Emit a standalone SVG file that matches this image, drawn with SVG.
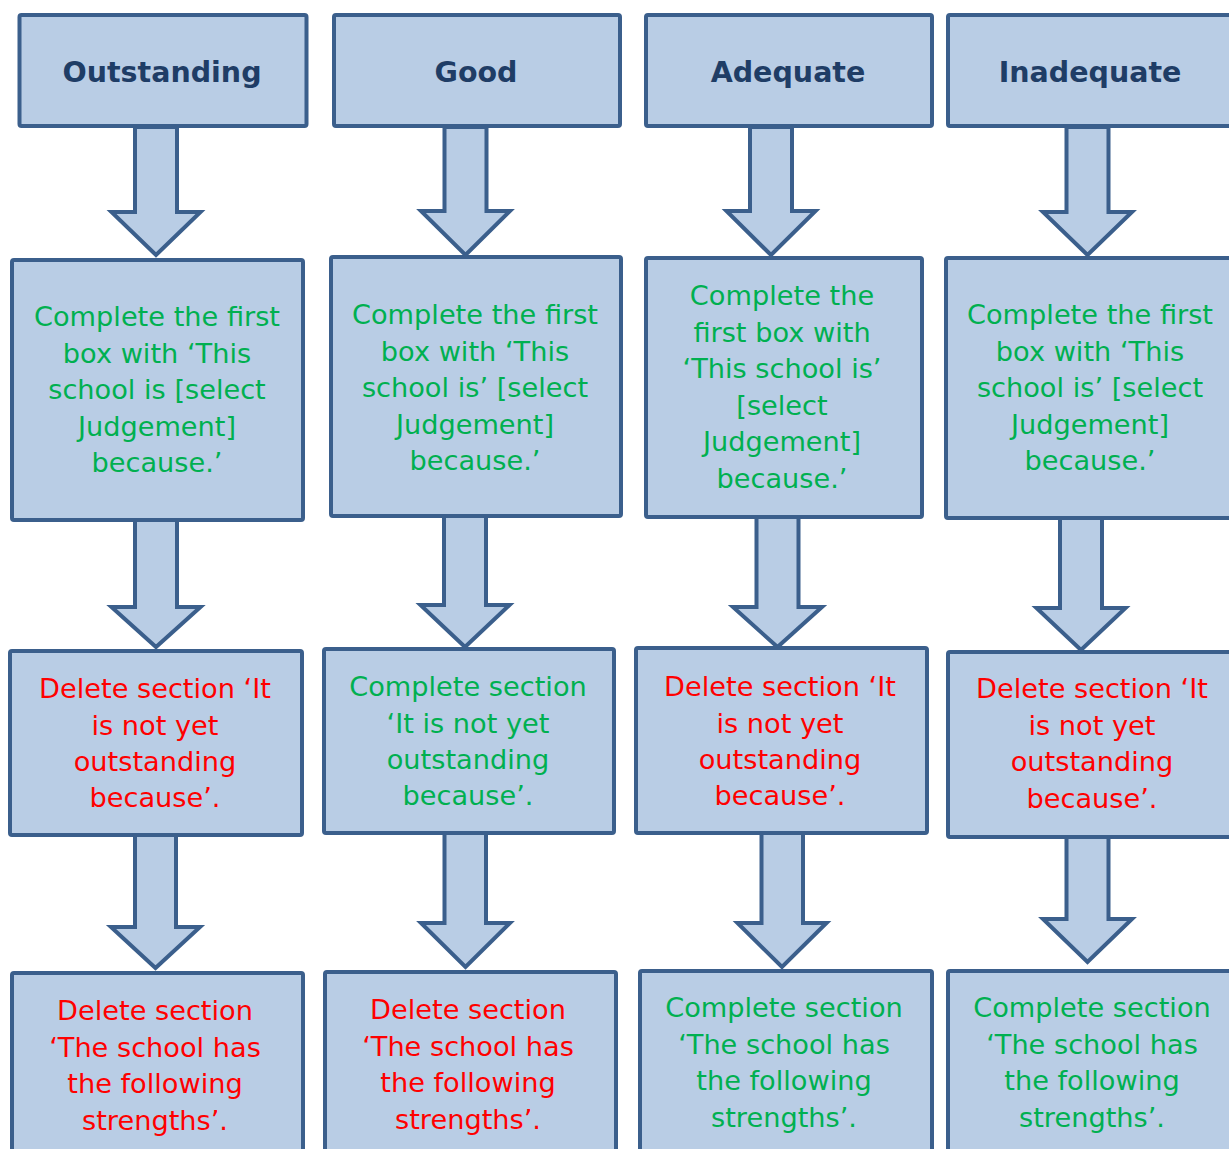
<svg xmlns="http://www.w3.org/2000/svg" width="1229" height="1149" viewBox="0 0 1229 1149">
<style>
.box{fill:#b9cde5;stroke:#3b5f8c;stroke-width:4}
.arr{fill:#b9cde5;stroke:#3b5f8c;stroke-width:4;stroke-linejoin:miter}
.hd{font-family:"DejaVu Sans",Verdana,sans-serif;font-weight:bold;font-size:28.5px;fill:#1f3d66;text-anchor:middle}
.t{font-family:"DejaVu Sans",Verdana,sans-serif;font-size:27.2px;text-anchor:middle}
.g{fill:#00b050}
.r{fill:#ff0000}
</style>
<rect width="1229" height="1149" fill="#ffffff"/>
<g id="connectors">
<polygon class="arr" points="135,127 177,127 177,212 200.5,212 156,255 111.5,212 135,212"/>
<polygon class="arr" points="444.5,127 486.5,127 486.5,211 510,211 465.5,255 421,211 444.5,211"/>
<polygon class="arr" points="750,127 792,127 792,211 815.5,211 771,255 726.5,211 750,211"/>
<polygon class="arr" points="1066.5,127 1108.5,127 1108.5,212 1132,212 1087.5,255 1043,212 1066.5,212"/>
<polygon class="arr" points="135,520 177,520 177,607 200.5,607 156,647 111.5,607 135,607"/>
<polygon class="arr" points="444,516 486,516 486,605 509.5,605 465,647 420.5,605 444,605"/>
<polygon class="arr" points="756.5,517 798.5,517 798.5,607 822,607 777.5,647 733,607 756.5,607"/>
<polygon class="arr" points="1060,518 1102,518 1102,608 1125.5,608 1081,650 1036.5,608 1060,608"/>
<polygon class="arr" points="135,835 176,835 176,927 200,927 155.5,968 111,927 135,927"/>
<polygon class="arr" points="444.5,833 486,833 486,923 510,923 465.5,967 421,923 444.5,923"/>
<polygon class="arr" points="761.5,833 803,833 803,923 826.5,923 782,967 737.5,923 761.5,923"/>
<polygon class="arr" points="1066.5,837 1108.5,837 1108.5,919 1132,919 1087.5,962 1043,919 1066.5,919"/>
</g>
<g id="n-outstanding"><rect class="box" x="19.5" y="15" width="287" height="111" rx="2"/><text class="hd" x="162" y="82">Outstanding</text></g>
<g id="n-good"><rect class="box" x="334" y="15" width="286" height="111" rx="2"/><text class="hd" x="476" y="82">Good</text></g>
<g id="n-adequate"><rect class="box" x="646" y="15" width="286" height="111" rx="2"/><text class="hd" x="788" y="82">Adequate</text></g>
<g id="n-inadequate"><rect class="box" x="948" y="15" width="300" height="111" rx="2"/><text class="hd" x="1090" y="82">Inadequate</text></g>

<g id="n-o2"><rect class="box" x="12" y="260" width="291" height="260" rx="2"/>
<text class="t g" x="157"><tspan x="157" y="326">Complete the first</tspan><tspan x="157" y="362.5">box with ‘This</tspan><tspan x="157" y="399">school is [select</tspan><tspan x="157" y="435.5">Judgement]</tspan><tspan x="157" y="472">because.’</tspan></text></g>
<g id="n-g2"><rect class="box" x="331" y="257" width="290" height="259" rx="2"/>
<text class="t g" x="475"><tspan x="475" y="324">Complete the first</tspan><tspan x="475" y="360.5">box with ‘This</tspan><tspan x="475" y="397">school is’ [select</tspan><tspan x="475" y="433.5">Judgement]</tspan><tspan x="475" y="470">because.’</tspan></text></g>
<g id="n-a2"><rect class="box" x="646" y="258" width="276" height="259" rx="2"/>
<text class="t g" x="782"><tspan x="782" y="305">Complete the</tspan><tspan x="782" y="341.5">first box with</tspan><tspan x="782" y="378">‘This school is’</tspan><tspan x="782" y="414.5">[select</tspan><tspan x="782" y="451">Judgement]</tspan><tspan x="782" y="487.5">because.’</tspan></text></g>
<g id="n-i2"><rect class="box" x="946" y="258" width="300" height="260" rx="2"/>
<text class="t g" x="1090"><tspan x="1090" y="324">Complete the first</tspan><tspan x="1090" y="360.5">box with ‘This</tspan><tspan x="1090" y="397">school is’ [select</tspan><tspan x="1090" y="433.5">Judgement]</tspan><tspan x="1090" y="470">because.’</tspan></text></g>

<g id="n-o3"><rect class="box" x="10" y="651" width="292" height="184" rx="2"/>
<text class="t r" x="155"><tspan x="155" y="698">Delete section ‘It</tspan><tspan x="155" y="734.5">is not yet</tspan><tspan x="155" y="770.5">outstanding</tspan><tspan x="155" y="806.5">because’.</tspan></text></g>
<g id="n-g3"><rect class="box" x="324" y="649" width="290" height="184" rx="2"/>
<text class="t g" x="468"><tspan x="468" y="696">Complete section</tspan><tspan x="468" y="732.5">‘It is not yet</tspan><tspan x="468" y="768.5">outstanding</tspan><tspan x="468" y="804.5">because’.</tspan></text></g>
<g id="n-a3"><rect class="box" x="636" y="648" width="291" height="185" rx="2"/>
<text class="t r" x="780"><tspan x="780" y="696">Delete section ‘It</tspan><tspan x="780" y="732.5">is not yet</tspan><tspan x="780" y="768.5">outstanding</tspan><tspan x="780" y="804.5">because’.</tspan></text></g>
<g id="n-i3"><rect class="box" x="948" y="652" width="300" height="185" rx="2"/>
<text class="t r" x="1092"><tspan x="1092" y="698">Delete section ‘It</tspan><tspan x="1092" y="734.5">is not yet</tspan><tspan x="1092" y="771">outstanding</tspan><tspan x="1092" y="807.5">because’.</tspan></text></g>

<g id="n-o4"><rect class="box" x="12" y="973" width="291" height="200" rx="2"/>
<text class="t r" x="155"><tspan x="155" y="1020">Delete section</tspan><tspan x="155" y="1056.5">‘The school has</tspan><tspan x="155" y="1093">the following</tspan><tspan x="155" y="1129.5">strengths’.</tspan></text></g>
<g id="n-g4"><rect class="box" x="325" y="972" width="291" height="200" rx="2"/>
<text class="t r" x="468"><tspan x="468" y="1019">Delete section</tspan><tspan x="468" y="1055.5">‘The school has</tspan><tspan x="468" y="1092">the following</tspan><tspan x="468" y="1128.5">strengths’.</tspan></text></g>
<g id="n-a4"><rect class="box" x="640" y="971" width="292" height="200" rx="2"/>
<text class="t g" x="784"><tspan x="784" y="1017">Complete section</tspan><tspan x="784" y="1053.5">‘The school has</tspan><tspan x="784" y="1090">the following</tspan><tspan x="784" y="1126.5">strengths’.</tspan></text></g>
<g id="n-i4"><rect class="box" x="948" y="971" width="300" height="200" rx="2"/>
<text class="t g" x="1092"><tspan x="1092" y="1017">Complete section</tspan><tspan x="1092" y="1053.5">‘The school has</tspan><tspan x="1092" y="1090">the following</tspan><tspan x="1092" y="1126.5">strengths’.</tspan></text></g>
</svg>
